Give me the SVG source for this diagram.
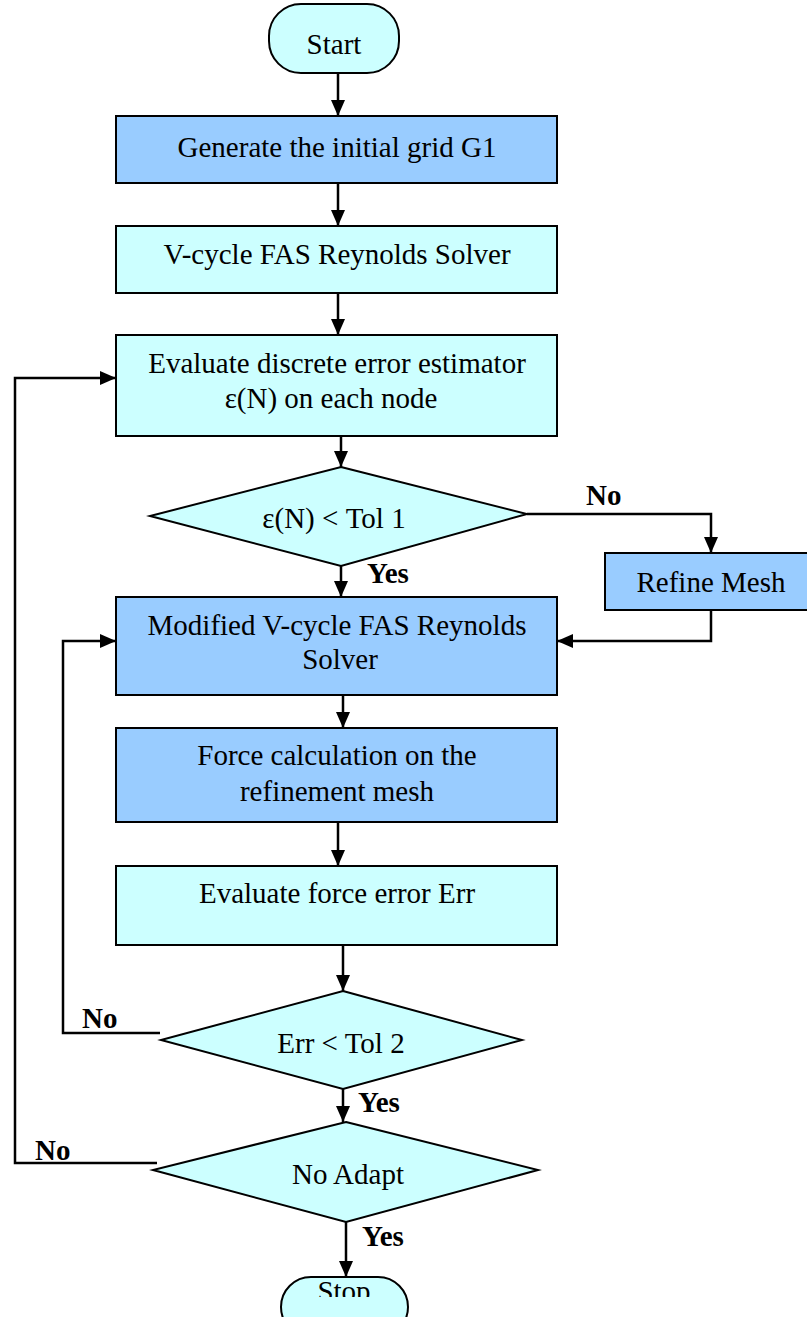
<svg xmlns="http://www.w3.org/2000/svg" width="807" height="1317" viewBox="0 0 807 1317">
<style>
.blue{fill:#99CCFF;stroke:#000;stroke-width:2}
.cyan{fill:#CCFFFF;stroke:#000;stroke-width:2}
.t{font-family:"Liberation Serif","Times New Roman",serif;font-size:29px;fill:#000;text-anchor:middle}
.lb{font-family:"Liberation Serif","Times New Roman",serif;font-size:29px;font-weight:bold;fill:#000}
.ln{fill:none;stroke:#000;stroke-width:2.5}
</style>
<defs>
<marker id="ah" markerWidth="16" markerHeight="14" refX="16" refY="7" orient="auto" markerUnits="userSpaceOnUse">
<path d="M0,0 L16,7 L0,14 Z" fill="#000"/>
</marker>
<clipPath id="stopclip"><rect x="0" y="0" width="807" height="1297"/></clipPath>
</defs>
<g id="connectors">
<line class="ln" x1="338" y1="73" x2="338" y2="116" marker-end="url(#ah)"/>
<line class="ln" x1="338" y1="183" x2="338" y2="226" marker-end="url(#ah)"/>
<line class="ln" x1="338" y1="293" x2="338" y2="335" marker-end="url(#ah)"/>
<line class="ln" x1="341" y1="436" x2="341" y2="467" marker-end="url(#ah)"/>
<line class="ln" x1="341" y1="566" x2="341" y2="597" marker-end="url(#ah)"/>
<polyline class="ln" points="527,514 711,514 711,553" marker-end="url(#ah)"/>
<polyline class="ln" points="711,610 711,641 557,641" marker-end="url(#ah)"/>
<line class="ln" x1="343" y1="695" x2="343" y2="728" marker-end="url(#ah)"/>
<line class="ln" x1="338" y1="822" x2="338" y2="866" marker-end="url(#ah)"/>
<line class="ln" x1="343" y1="945" x2="343" y2="991" marker-end="url(#ah)"/>
<polyline class="ln" points="160,1033 63,1033 63,641 116,641" marker-end="url(#ah)"/>
<line class="ln" x1="343" y1="1089" x2="343" y2="1122" marker-end="url(#ah)"/>
<polyline class="ln" points="157,1163 15,1163 15,378 116,378" marker-end="url(#ah)"/>
<line class="ln" x1="346" y1="1222" x2="346" y2="1277" marker-end="url(#ah)"/>
<text class="lb" x="586" y="505">No</text>
<text class="lb" x="367" y="583">Yes</text>
<text class="lb" x="82" y="1028">No</text>
<text class="lb" x="358" y="1112">Yes</text>
<text class="lb" x="35" y="1160">No</text>
<text class="lb" x="362" y="1246">Yes</text>
</g>
<g id="start">
<rect class="cyan" x="269" y="4" width="130" height="69" rx="32" ry="32"/>
<text class="t" x="334" y="54">Start</text>
</g>
<g id="generate">
<rect class="blue" x="116" y="116" width="441" height="67"/>
<text class="t" x="337" y="157">Generate the initial grid G1</text>
</g>
<g id="vcycle">
<rect class="cyan" x="116" y="226" width="441" height="67"/>
<text class="t" x="337" y="264">V-cycle FAS Reynolds Solver</text>
</g>
<g id="evaluate">
<rect class="cyan" x="116" y="335" width="441" height="101"/>
<text class="t" x="337" y="373">Evaluate discrete error estimator</text>
<text class="t" x="331" y="408">ε(N) on each node</text>
</g>
<g id="dec1">
<polygon class="cyan" points="341,467 527,514 341,566 150,516"/>
<text class="t" x="334" y="528">ε(N) &lt; Tol 1</text>
</g>
<g id="refine">
<rect class="blue" x="605" y="553" width="204" height="57"/>
<text class="t" x="711" y="592">Refine Mesh</text>
</g>
<g id="modified">
<rect class="blue" x="116" y="597" width="441" height="98"/>
<text class="t" x="337" y="635">Modified V-cycle FAS Reynolds</text>
<text class="t" x="340" y="669">Solver</text>
</g>
<g id="force">
<rect class="blue" x="116" y="728" width="441" height="94"/>
<text class="t" x="337" y="765">Force calculation on the</text>
<text class="t" x="337" y="801">refinement mesh</text>
</g>
<g id="forceerr">
<rect class="cyan" x="116" y="866" width="441" height="79"/>
<text class="t" x="337" y="903">Evaluate force error Err</text>
</g>
<g id="dec2">
<polygon class="cyan" points="343,991 522,1040 343,1089 161,1040"/>
<text class="t" x="341" y="1053">Err &lt; Tol 2</text>
</g>
<g id="dec3">
<polygon class="cyan" points="346,1122 538,1170 346,1222 153,1170"/>
<text class="t" x="348" y="1184">No Adapt</text>
</g>
<g id="stop">
<rect class="cyan" x="281" y="1277" width="127" height="60" rx="30" ry="30"/>
<text class="t" x="344" y="1301" clip-path="url(#stopclip)">Stop</text>
</g>
</svg>
